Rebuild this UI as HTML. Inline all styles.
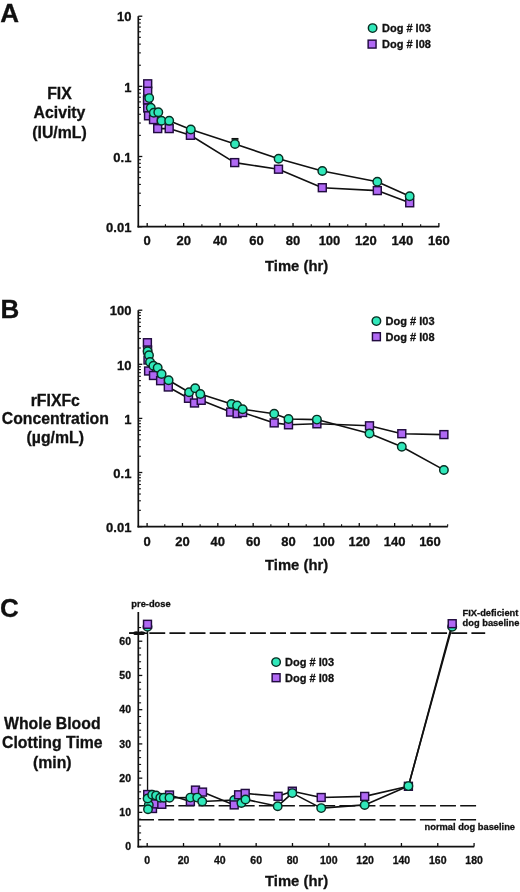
<!DOCTYPE html>
<html><head><meta charset="utf-8"><style>
html,body{margin:0;padding:0;background:#fff;width:520px;height:892px;overflow:hidden}
svg{display:block;filter:blur(0.3px)}
text{font-family:"Liberation Sans",sans-serif;fill:#111;stroke:#111;stroke-width:0.3px}
</style></head><body>
<svg width="520" height="892" viewBox="0 0 520 892">
<rect width="520" height="892" fill="#fff"/>
<text x="0.30" y="21.80" font-size="26" text-anchor="start" font-weight="bold">A</text>
<line x1="138.30" y1="16.20" x2="138.30" y2="227.45" stroke="#111" stroke-width="1.7" />
<line x1="137.50" y1="226.65" x2="439.20" y2="226.65" stroke="#111" stroke-width="1.7" />
<line x1="138.30" y1="16.20" x2="142.30" y2="16.20" stroke="#111" stroke-width="1.3" />
<line x1="138.30" y1="86.35" x2="142.30" y2="86.35" stroke="#111" stroke-width="1.3" />
<line x1="138.30" y1="156.50" x2="142.30" y2="156.50" stroke="#111" stroke-width="1.3" />
<line x1="138.30" y1="226.65" x2="142.30" y2="226.65" stroke="#111" stroke-width="1.3" />
<line x1="138.30" y1="65.23" x2="140.90" y2="65.23" stroke="#111" stroke-width="1.1" />
<line x1="138.30" y1="52.88" x2="140.90" y2="52.88" stroke="#111" stroke-width="1.1" />
<line x1="138.30" y1="44.12" x2="140.90" y2="44.12" stroke="#111" stroke-width="1.1" />
<line x1="138.30" y1="37.32" x2="140.90" y2="37.32" stroke="#111" stroke-width="1.1" />
<line x1="138.30" y1="31.76" x2="140.90" y2="31.76" stroke="#111" stroke-width="1.1" />
<line x1="138.30" y1="27.07" x2="140.90" y2="27.07" stroke="#111" stroke-width="1.1" />
<line x1="138.30" y1="23.00" x2="140.90" y2="23.00" stroke="#111" stroke-width="1.1" />
<line x1="138.30" y1="19.41" x2="140.90" y2="19.41" stroke="#111" stroke-width="1.1" />
<line x1="138.30" y1="135.38" x2="140.90" y2="135.38" stroke="#111" stroke-width="1.1" />
<line x1="138.30" y1="123.03" x2="140.90" y2="123.03" stroke="#111" stroke-width="1.1" />
<line x1="138.30" y1="114.27" x2="140.90" y2="114.27" stroke="#111" stroke-width="1.1" />
<line x1="138.30" y1="107.47" x2="140.90" y2="107.47" stroke="#111" stroke-width="1.1" />
<line x1="138.30" y1="101.91" x2="140.90" y2="101.91" stroke="#111" stroke-width="1.1" />
<line x1="138.30" y1="97.22" x2="140.90" y2="97.22" stroke="#111" stroke-width="1.1" />
<line x1="138.30" y1="93.15" x2="140.90" y2="93.15" stroke="#111" stroke-width="1.1" />
<line x1="138.30" y1="89.56" x2="140.90" y2="89.56" stroke="#111" stroke-width="1.1" />
<line x1="138.30" y1="205.53" x2="140.90" y2="205.53" stroke="#111" stroke-width="1.1" />
<line x1="138.30" y1="193.18" x2="140.90" y2="193.18" stroke="#111" stroke-width="1.1" />
<line x1="138.30" y1="184.42" x2="140.90" y2="184.42" stroke="#111" stroke-width="1.1" />
<line x1="138.30" y1="177.62" x2="140.90" y2="177.62" stroke="#111" stroke-width="1.1" />
<line x1="138.30" y1="172.06" x2="140.90" y2="172.06" stroke="#111" stroke-width="1.1" />
<line x1="138.30" y1="167.37" x2="140.90" y2="167.37" stroke="#111" stroke-width="1.1" />
<line x1="138.30" y1="163.30" x2="140.90" y2="163.30" stroke="#111" stroke-width="1.1" />
<line x1="138.30" y1="159.71" x2="140.90" y2="159.71" stroke="#111" stroke-width="1.1" />
<text x="131.40" y="21.48" font-size="13" text-anchor="end" font-weight="bold">10</text>
<text x="131.40" y="91.63" font-size="13" text-anchor="end" font-weight="bold">1</text>
<text x="131.40" y="161.78" font-size="13" text-anchor="end" font-weight="bold">0.1</text>
<text x="131.40" y="231.93" font-size="13" text-anchor="end" font-weight="bold">0.01</text>
<line x1="147.20" y1="226.65" x2="147.20" y2="223.05" stroke="#111" stroke-width="1.3" />
<text x="147.20" y="245.40" font-size="13" text-anchor="middle" font-weight="bold">0</text>
<line x1="183.66" y1="226.65" x2="183.66" y2="223.05" stroke="#111" stroke-width="1.3" />
<text x="183.66" y="245.40" font-size="13" text-anchor="middle" font-weight="bold">20</text>
<line x1="220.12" y1="226.65" x2="220.12" y2="223.05" stroke="#111" stroke-width="1.3" />
<text x="220.12" y="245.40" font-size="13" text-anchor="middle" font-weight="bold">40</text>
<line x1="256.58" y1="226.65" x2="256.58" y2="223.05" stroke="#111" stroke-width="1.3" />
<text x="256.58" y="245.40" font-size="13" text-anchor="middle" font-weight="bold">60</text>
<line x1="293.04" y1="226.65" x2="293.04" y2="223.05" stroke="#111" stroke-width="1.3" />
<text x="293.04" y="245.40" font-size="13" text-anchor="middle" font-weight="bold">80</text>
<line x1="329.50" y1="226.65" x2="329.50" y2="223.05" stroke="#111" stroke-width="1.3" />
<text x="329.50" y="245.40" font-size="13" text-anchor="middle" font-weight="bold">100</text>
<line x1="365.96" y1="226.65" x2="365.96" y2="223.05" stroke="#111" stroke-width="1.3" />
<text x="365.96" y="245.40" font-size="13" text-anchor="middle" font-weight="bold">120</text>
<line x1="402.42" y1="226.65" x2="402.42" y2="223.05" stroke="#111" stroke-width="1.3" />
<text x="402.42" y="245.40" font-size="13" text-anchor="middle" font-weight="bold">140</text>
<line x1="438.88" y1="226.65" x2="438.88" y2="223.05" stroke="#111" stroke-width="1.3" />
<text x="438.88" y="245.40" font-size="13" text-anchor="middle" font-weight="bold">160</text>
<line x1="165.43" y1="226.65" x2="165.43" y2="224.25" stroke="#111" stroke-width="1.1" />
<line x1="201.89" y1="226.65" x2="201.89" y2="224.25" stroke="#111" stroke-width="1.1" />
<line x1="238.35" y1="226.65" x2="238.35" y2="224.25" stroke="#111" stroke-width="1.1" />
<line x1="274.81" y1="226.65" x2="274.81" y2="224.25" stroke="#111" stroke-width="1.1" />
<line x1="311.27" y1="226.65" x2="311.27" y2="224.25" stroke="#111" stroke-width="1.1" />
<line x1="347.73" y1="226.65" x2="347.73" y2="224.25" stroke="#111" stroke-width="1.1" />
<line x1="384.19" y1="226.65" x2="384.19" y2="224.25" stroke="#111" stroke-width="1.1" />
<line x1="420.65" y1="226.65" x2="420.65" y2="224.25" stroke="#111" stroke-width="1.1" />
<text x="296.60" y="271.20" font-size="14.8" text-anchor="middle" font-weight="bold">Time (hr)</text>
<text x="59.50" y="98.90" font-size="15.8" text-anchor="middle" font-weight="bold">FIX</text>
<text x="59.50" y="118.20" font-size="15.8" text-anchor="middle" font-weight="bold">Acivity</text>
<text x="59.50" y="137.50" font-size="15.8" text-anchor="middle" font-weight="bold">(IU/mL)</text>
<polyline points="147.70,83.80 147.70,91.20 147.50,100.00 147.70,108.00 148.50,115.80 153.50,119.60 157.70,128.60 169.20,128.60 190.40,135.30 234.70,162.60 278.50,169.20 322.30,187.70 377.30,190.60 409.70,202.80" fill="none" stroke="#111" stroke-width="1.6" stroke-linejoin="round"/>
<polyline points="149.20,98.10 150.80,107.70 153.80,112.70 158.30,112.30 161.50,120.80 169.20,120.80 190.80,129.50 235.00,143.90 278.60,158.80 322.30,171.00 377.30,181.80 409.70,196.30" fill="none" stroke="#111" stroke-width="1.6" stroke-linejoin="round"/>
<line x1="235.00" y1="143.00" x2="235.00" y2="138.90" stroke="#111" stroke-width="1.3" />
<line x1="231.50" y1="138.90" x2="238.50" y2="138.90" stroke="#111" stroke-width="1.9" />
<rect x="143.75" y="79.85" width="7.9" height="7.9" fill="#B068F4" stroke="#220C40" stroke-width="1.45"/>
<rect x="143.75" y="87.25" width="7.9" height="7.9" fill="#B068F4" stroke="#220C40" stroke-width="1.45"/>
<rect x="143.55" y="96.05" width="7.9" height="7.9" fill="#B068F4" stroke="#220C40" stroke-width="1.45"/>
<rect x="143.75" y="104.05" width="7.9" height="7.9" fill="#B068F4" stroke="#220C40" stroke-width="1.45"/>
<rect x="144.55" y="111.85" width="7.9" height="7.9" fill="#B068F4" stroke="#220C40" stroke-width="1.45"/>
<rect x="149.55" y="115.65" width="7.9" height="7.9" fill="#B068F4" stroke="#220C40" stroke-width="1.45"/>
<rect x="153.75" y="124.65" width="7.9" height="7.9" fill="#B068F4" stroke="#220C40" stroke-width="1.45"/>
<rect x="165.25" y="124.65" width="7.9" height="7.9" fill="#B068F4" stroke="#220C40" stroke-width="1.45"/>
<rect x="186.45" y="131.35" width="7.9" height="7.9" fill="#B068F4" stroke="#220C40" stroke-width="1.45"/>
<rect x="230.75" y="158.65" width="7.9" height="7.9" fill="#B068F4" stroke="#220C40" stroke-width="1.45"/>
<rect x="274.55" y="165.25" width="7.9" height="7.9" fill="#B068F4" stroke="#220C40" stroke-width="1.45"/>
<rect x="318.35" y="183.75" width="7.9" height="7.9" fill="#B068F4" stroke="#220C40" stroke-width="1.45"/>
<rect x="373.35" y="186.65" width="7.9" height="7.9" fill="#B068F4" stroke="#220C40" stroke-width="1.45"/>
<rect x="405.75" y="198.85" width="7.9" height="7.9" fill="#B068F4" stroke="#220C40" stroke-width="1.45"/>
<circle cx="149.20" cy="98.10" r="4.25" fill="#30E8BA" stroke="#082E22" stroke-width="1.45"/>
<circle cx="150.80" cy="107.70" r="4.25" fill="#30E8BA" stroke="#082E22" stroke-width="1.45"/>
<circle cx="153.80" cy="112.70" r="4.25" fill="#30E8BA" stroke="#082E22" stroke-width="1.45"/>
<circle cx="158.30" cy="112.30" r="4.25" fill="#30E8BA" stroke="#082E22" stroke-width="1.45"/>
<circle cx="161.50" cy="120.80" r="4.25" fill="#30E8BA" stroke="#082E22" stroke-width="1.45"/>
<circle cx="169.20" cy="120.80" r="4.25" fill="#30E8BA" stroke="#082E22" stroke-width="1.45"/>
<circle cx="190.80" cy="129.50" r="4.25" fill="#30E8BA" stroke="#082E22" stroke-width="1.45"/>
<circle cx="235.00" cy="143.90" r="4.25" fill="#30E8BA" stroke="#082E22" stroke-width="1.45"/>
<circle cx="278.60" cy="158.80" r="4.25" fill="#30E8BA" stroke="#082E22" stroke-width="1.45"/>
<circle cx="322.30" cy="171.00" r="4.25" fill="#30E8BA" stroke="#082E22" stroke-width="1.45"/>
<circle cx="377.30" cy="181.80" r="4.25" fill="#30E8BA" stroke="#082E22" stroke-width="1.45"/>
<circle cx="409.70" cy="196.30" r="4.25" fill="#30E8BA" stroke="#082E22" stroke-width="1.45"/>
<circle cx="372.60" cy="28.10" r="4.25" fill="#30E8BA" stroke="#082E22" stroke-width="1.45"/>
<rect x="368.15" y="40.15" width="7.9" height="7.9" fill="#B068F4" stroke="#220C40" stroke-width="1.45"/>
<text x="382.00" y="32.20" font-size="11" text-anchor="start" font-weight="bold">Dog # I03</text>
<text x="382.00" y="47.60" font-size="11" text-anchor="start" font-weight="bold">Dog # I08</text>
<text x="0.40" y="317.80" font-size="26" text-anchor="start" font-weight="bold">B</text>
<line x1="138.30" y1="310.20" x2="138.30" y2="527.40" stroke="#111" stroke-width="1.7" />
<line x1="137.50" y1="526.60" x2="447.80" y2="526.60" stroke="#111" stroke-width="1.7" />
<line x1="138.30" y1="310.20" x2="142.30" y2="310.20" stroke="#111" stroke-width="1.3" />
<line x1="138.30" y1="364.30" x2="142.30" y2="364.30" stroke="#111" stroke-width="1.3" />
<line x1="138.30" y1="418.40" x2="142.30" y2="418.40" stroke="#111" stroke-width="1.3" />
<line x1="138.30" y1="472.50" x2="142.30" y2="472.50" stroke="#111" stroke-width="1.3" />
<line x1="138.30" y1="526.60" x2="142.30" y2="526.60" stroke="#111" stroke-width="1.3" />
<line x1="138.30" y1="348.01" x2="140.90" y2="348.01" stroke="#111" stroke-width="1.1" />
<line x1="138.30" y1="338.49" x2="140.90" y2="338.49" stroke="#111" stroke-width="1.1" />
<line x1="138.30" y1="331.73" x2="140.90" y2="331.73" stroke="#111" stroke-width="1.1" />
<line x1="138.30" y1="326.49" x2="140.90" y2="326.49" stroke="#111" stroke-width="1.1" />
<line x1="138.30" y1="322.20" x2="140.90" y2="322.20" stroke="#111" stroke-width="1.1" />
<line x1="138.30" y1="318.58" x2="140.90" y2="318.58" stroke="#111" stroke-width="1.1" />
<line x1="138.30" y1="315.44" x2="140.90" y2="315.44" stroke="#111" stroke-width="1.1" />
<line x1="138.30" y1="312.68" x2="140.90" y2="312.68" stroke="#111" stroke-width="1.1" />
<line x1="138.30" y1="402.11" x2="140.90" y2="402.11" stroke="#111" stroke-width="1.1" />
<line x1="138.30" y1="392.59" x2="140.90" y2="392.59" stroke="#111" stroke-width="1.1" />
<line x1="138.30" y1="385.83" x2="140.90" y2="385.83" stroke="#111" stroke-width="1.1" />
<line x1="138.30" y1="380.59" x2="140.90" y2="380.59" stroke="#111" stroke-width="1.1" />
<line x1="138.30" y1="376.30" x2="140.90" y2="376.30" stroke="#111" stroke-width="1.1" />
<line x1="138.30" y1="372.68" x2="140.90" y2="372.68" stroke="#111" stroke-width="1.1" />
<line x1="138.30" y1="369.54" x2="140.90" y2="369.54" stroke="#111" stroke-width="1.1" />
<line x1="138.30" y1="366.78" x2="140.90" y2="366.78" stroke="#111" stroke-width="1.1" />
<line x1="138.30" y1="456.21" x2="140.90" y2="456.21" stroke="#111" stroke-width="1.1" />
<line x1="138.30" y1="446.69" x2="140.90" y2="446.69" stroke="#111" stroke-width="1.1" />
<line x1="138.30" y1="439.93" x2="140.90" y2="439.93" stroke="#111" stroke-width="1.1" />
<line x1="138.30" y1="434.69" x2="140.90" y2="434.69" stroke="#111" stroke-width="1.1" />
<line x1="138.30" y1="430.40" x2="140.90" y2="430.40" stroke="#111" stroke-width="1.1" />
<line x1="138.30" y1="426.78" x2="140.90" y2="426.78" stroke="#111" stroke-width="1.1" />
<line x1="138.30" y1="423.64" x2="140.90" y2="423.64" stroke="#111" stroke-width="1.1" />
<line x1="138.30" y1="420.88" x2="140.90" y2="420.88" stroke="#111" stroke-width="1.1" />
<line x1="138.30" y1="510.31" x2="140.90" y2="510.31" stroke="#111" stroke-width="1.1" />
<line x1="138.30" y1="500.79" x2="140.90" y2="500.79" stroke="#111" stroke-width="1.1" />
<line x1="138.30" y1="494.03" x2="140.90" y2="494.03" stroke="#111" stroke-width="1.1" />
<line x1="138.30" y1="488.79" x2="140.90" y2="488.79" stroke="#111" stroke-width="1.1" />
<line x1="138.30" y1="484.50" x2="140.90" y2="484.50" stroke="#111" stroke-width="1.1" />
<line x1="138.30" y1="480.88" x2="140.90" y2="480.88" stroke="#111" stroke-width="1.1" />
<line x1="138.30" y1="477.74" x2="140.90" y2="477.74" stroke="#111" stroke-width="1.1" />
<line x1="138.30" y1="474.98" x2="140.90" y2="474.98" stroke="#111" stroke-width="1.1" />
<text x="131.40" y="315.48" font-size="13" text-anchor="end" font-weight="bold">100</text>
<text x="131.40" y="369.58" font-size="13" text-anchor="end" font-weight="bold">10</text>
<text x="131.40" y="423.68" font-size="13" text-anchor="end" font-weight="bold">1</text>
<text x="131.40" y="477.78" font-size="13" text-anchor="end" font-weight="bold">0.1</text>
<text x="131.40" y="531.88" font-size="13" text-anchor="end" font-weight="bold">0.01</text>
<line x1="147.10" y1="526.60" x2="147.10" y2="523.00" stroke="#111" stroke-width="1.3" />
<text x="147.10" y="545.70" font-size="13" text-anchor="middle" font-weight="bold">0</text>
<line x1="182.46" y1="526.60" x2="182.46" y2="523.00" stroke="#111" stroke-width="1.3" />
<text x="182.46" y="545.70" font-size="13" text-anchor="middle" font-weight="bold">20</text>
<line x1="217.82" y1="526.60" x2="217.82" y2="523.00" stroke="#111" stroke-width="1.3" />
<text x="217.82" y="545.70" font-size="13" text-anchor="middle" font-weight="bold">40</text>
<line x1="253.18" y1="526.60" x2="253.18" y2="523.00" stroke="#111" stroke-width="1.3" />
<text x="253.18" y="545.70" font-size="13" text-anchor="middle" font-weight="bold">60</text>
<line x1="288.54" y1="526.60" x2="288.54" y2="523.00" stroke="#111" stroke-width="1.3" />
<text x="288.54" y="545.70" font-size="13" text-anchor="middle" font-weight="bold">80</text>
<line x1="323.90" y1="526.60" x2="323.90" y2="523.00" stroke="#111" stroke-width="1.3" />
<text x="323.90" y="545.70" font-size="13" text-anchor="middle" font-weight="bold">100</text>
<line x1="359.26" y1="526.60" x2="359.26" y2="523.00" stroke="#111" stroke-width="1.3" />
<text x="359.26" y="545.70" font-size="13" text-anchor="middle" font-weight="bold">120</text>
<line x1="394.62" y1="526.60" x2="394.62" y2="523.00" stroke="#111" stroke-width="1.3" />
<text x="394.62" y="545.70" font-size="13" text-anchor="middle" font-weight="bold">140</text>
<line x1="429.98" y1="526.60" x2="429.98" y2="523.00" stroke="#111" stroke-width="1.3" />
<text x="429.98" y="545.70" font-size="13" text-anchor="middle" font-weight="bold">160</text>
<line x1="164.78" y1="526.60" x2="164.78" y2="524.20" stroke="#111" stroke-width="1.1" />
<line x1="200.14" y1="526.60" x2="200.14" y2="524.20" stroke="#111" stroke-width="1.1" />
<line x1="235.50" y1="526.60" x2="235.50" y2="524.20" stroke="#111" stroke-width="1.1" />
<line x1="270.86" y1="526.60" x2="270.86" y2="524.20" stroke="#111" stroke-width="1.1" />
<line x1="306.22" y1="526.60" x2="306.22" y2="524.20" stroke="#111" stroke-width="1.1" />
<line x1="341.58" y1="526.60" x2="341.58" y2="524.20" stroke="#111" stroke-width="1.1" />
<line x1="376.94" y1="526.60" x2="376.94" y2="524.20" stroke="#111" stroke-width="1.1" />
<line x1="412.30" y1="526.60" x2="412.30" y2="524.20" stroke="#111" stroke-width="1.1" />
<line x1="447.66" y1="526.60" x2="447.66" y2="524.20" stroke="#111" stroke-width="1.1" />
<text x="296.60" y="570.20" font-size="14.8" text-anchor="middle" font-weight="bold">Time (hr)</text>
<text x="55.30" y="405.70" font-size="15.8" text-anchor="middle" font-weight="bold">rFIXFc</text>
<text x="55.30" y="424.40" font-size="15.8" text-anchor="middle" font-weight="bold">Concentration</text>
<text x="55.30" y="443.10" font-size="15.8" text-anchor="middle" font-weight="bold">(µg/mL)</text>
<polyline points="147.40,342.70 147.60,350.00 148.00,360.00 148.60,371.00 153.50,375.50 160.60,380.70 168.30,387.00 188.50,398.30 194.50,403.00 201.20,400.30 230.60,412.10 237.10,413.60 242.60,412.50 274.20,422.90 288.50,424.80 316.90,423.80 369.50,425.80 401.80,433.70 443.90,434.60" fill="none" stroke="#111" stroke-width="1.6" stroke-linejoin="round"/>
<polyline points="147.60,351.30 149.00,355.20 150.00,362.00 153.40,365.80 157.70,367.70 161.60,374.00 168.60,380.20 189.10,392.20 195.20,388.20 200.30,394.00 231.50,403.90 237.10,405.40 242.60,409.20 274.20,413.80 288.50,419.00 316.90,419.60 369.50,433.50 401.80,446.80 443.90,469.90" fill="none" stroke="#111" stroke-width="1.6" stroke-linejoin="round"/>
<rect x="143.45" y="338.75" width="7.9" height="7.9" fill="#B068F4" stroke="#220C40" stroke-width="1.45"/>
<rect x="143.65" y="346.05" width="7.9" height="7.9" fill="#B068F4" stroke="#220C40" stroke-width="1.45"/>
<rect x="144.05" y="356.05" width="7.9" height="7.9" fill="#B068F4" stroke="#220C40" stroke-width="1.45"/>
<rect x="144.65" y="367.05" width="7.9" height="7.9" fill="#B068F4" stroke="#220C40" stroke-width="1.45"/>
<rect x="149.55" y="371.55" width="7.9" height="7.9" fill="#B068F4" stroke="#220C40" stroke-width="1.45"/>
<rect x="156.65" y="376.75" width="7.9" height="7.9" fill="#B068F4" stroke="#220C40" stroke-width="1.45"/>
<rect x="164.35" y="383.05" width="7.9" height="7.9" fill="#B068F4" stroke="#220C40" stroke-width="1.45"/>
<rect x="184.55" y="394.35" width="7.9" height="7.9" fill="#B068F4" stroke="#220C40" stroke-width="1.45"/>
<rect x="190.55" y="399.05" width="7.9" height="7.9" fill="#B068F4" stroke="#220C40" stroke-width="1.45"/>
<rect x="197.25" y="396.35" width="7.9" height="7.9" fill="#B068F4" stroke="#220C40" stroke-width="1.45"/>
<rect x="226.65" y="408.15" width="7.9" height="7.9" fill="#B068F4" stroke="#220C40" stroke-width="1.45"/>
<rect x="233.15" y="409.65" width="7.9" height="7.9" fill="#B068F4" stroke="#220C40" stroke-width="1.45"/>
<rect x="238.65" y="408.55" width="7.9" height="7.9" fill="#B068F4" stroke="#220C40" stroke-width="1.45"/>
<rect x="270.25" y="418.95" width="7.9" height="7.9" fill="#B068F4" stroke="#220C40" stroke-width="1.45"/>
<rect x="284.55" y="420.85" width="7.9" height="7.9" fill="#B068F4" stroke="#220C40" stroke-width="1.45"/>
<rect x="312.95" y="419.85" width="7.9" height="7.9" fill="#B068F4" stroke="#220C40" stroke-width="1.45"/>
<rect x="365.55" y="421.85" width="7.9" height="7.9" fill="#B068F4" stroke="#220C40" stroke-width="1.45"/>
<rect x="397.85" y="429.75" width="7.9" height="7.9" fill="#B068F4" stroke="#220C40" stroke-width="1.45"/>
<rect x="439.95" y="430.65" width="7.9" height="7.9" fill="#B068F4" stroke="#220C40" stroke-width="1.45"/>
<circle cx="147.60" cy="351.30" r="4.25" fill="#30E8BA" stroke="#082E22" stroke-width="1.45"/>
<circle cx="149.00" cy="355.20" r="4.25" fill="#30E8BA" stroke="#082E22" stroke-width="1.45"/>
<circle cx="150.00" cy="362.00" r="4.25" fill="#30E8BA" stroke="#082E22" stroke-width="1.45"/>
<circle cx="153.40" cy="365.80" r="4.25" fill="#30E8BA" stroke="#082E22" stroke-width="1.45"/>
<circle cx="157.70" cy="367.70" r="4.25" fill="#30E8BA" stroke="#082E22" stroke-width="1.45"/>
<circle cx="161.60" cy="374.00" r="4.25" fill="#30E8BA" stroke="#082E22" stroke-width="1.45"/>
<circle cx="168.60" cy="380.20" r="4.25" fill="#30E8BA" stroke="#082E22" stroke-width="1.45"/>
<circle cx="189.10" cy="392.20" r="4.25" fill="#30E8BA" stroke="#082E22" stroke-width="1.45"/>
<circle cx="195.20" cy="388.20" r="4.25" fill="#30E8BA" stroke="#082E22" stroke-width="1.45"/>
<circle cx="200.30" cy="394.00" r="4.25" fill="#30E8BA" stroke="#082E22" stroke-width="1.45"/>
<circle cx="231.50" cy="403.90" r="4.25" fill="#30E8BA" stroke="#082E22" stroke-width="1.45"/>
<circle cx="237.10" cy="405.40" r="4.25" fill="#30E8BA" stroke="#082E22" stroke-width="1.45"/>
<circle cx="242.60" cy="409.20" r="4.25" fill="#30E8BA" stroke="#082E22" stroke-width="1.45"/>
<circle cx="274.20" cy="413.80" r="4.25" fill="#30E8BA" stroke="#082E22" stroke-width="1.45"/>
<circle cx="288.50" cy="419.00" r="4.25" fill="#30E8BA" stroke="#082E22" stroke-width="1.45"/>
<circle cx="316.90" cy="419.60" r="4.25" fill="#30E8BA" stroke="#082E22" stroke-width="1.45"/>
<circle cx="369.50" cy="433.50" r="4.25" fill="#30E8BA" stroke="#082E22" stroke-width="1.45"/>
<circle cx="401.80" cy="446.80" r="4.25" fill="#30E8BA" stroke="#082E22" stroke-width="1.45"/>
<circle cx="443.90" cy="469.90" r="4.25" fill="#30E8BA" stroke="#082E22" stroke-width="1.45"/>
<circle cx="376.40" cy="321.10" r="4.25" fill="#30E8BA" stroke="#082E22" stroke-width="1.45"/>
<rect x="372.45" y="332.75" width="7.9" height="7.9" fill="#B068F4" stroke="#220C40" stroke-width="1.45"/>
<text x="385.60" y="324.90" font-size="11" text-anchor="start" font-weight="bold">Dog # I03</text>
<text x="385.60" y="340.50" font-size="11" text-anchor="start" font-weight="bold">Dog # I08</text>
<text x="0.10" y="617.30" font-size="26" text-anchor="start" font-weight="bold">C</text>
<line x1="138.30" y1="612.00" x2="138.30" y2="847.40" stroke="#111" stroke-width="1.7" />
<line x1="137.50" y1="846.60" x2="474.20" y2="846.60" stroke="#111" stroke-width="1.7" />
<line x1="138.30" y1="846.60" x2="142.30" y2="846.60" stroke="#111" stroke-width="1.3" />
<text x="131.00" y="850.30" font-size="10.5" text-anchor="end" font-weight="bold">0</text>
<line x1="138.30" y1="839.75" x2="141.10" y2="839.75" stroke="#111" stroke-width="1.1" />
<line x1="138.30" y1="832.91" x2="141.10" y2="832.91" stroke="#111" stroke-width="1.1" />
<line x1="138.30" y1="826.06" x2="141.10" y2="826.06" stroke="#111" stroke-width="1.1" />
<line x1="138.30" y1="819.22" x2="141.10" y2="819.22" stroke="#111" stroke-width="1.1" />
<line x1="138.30" y1="812.37" x2="142.30" y2="812.37" stroke="#111" stroke-width="1.3" />
<text x="131.00" y="816.07" font-size="10.5" text-anchor="end" font-weight="bold">10</text>
<line x1="138.30" y1="805.52" x2="141.10" y2="805.52" stroke="#111" stroke-width="1.1" />
<line x1="138.30" y1="798.68" x2="141.10" y2="798.68" stroke="#111" stroke-width="1.1" />
<line x1="138.30" y1="791.83" x2="141.10" y2="791.83" stroke="#111" stroke-width="1.1" />
<line x1="138.30" y1="784.99" x2="141.10" y2="784.99" stroke="#111" stroke-width="1.1" />
<line x1="138.30" y1="778.14" x2="142.30" y2="778.14" stroke="#111" stroke-width="1.3" />
<text x="131.00" y="781.84" font-size="10.5" text-anchor="end" font-weight="bold">20</text>
<line x1="138.30" y1="771.29" x2="141.10" y2="771.29" stroke="#111" stroke-width="1.1" />
<line x1="138.30" y1="764.45" x2="141.10" y2="764.45" stroke="#111" stroke-width="1.1" />
<line x1="138.30" y1="757.60" x2="141.10" y2="757.60" stroke="#111" stroke-width="1.1" />
<line x1="138.30" y1="750.76" x2="141.10" y2="750.76" stroke="#111" stroke-width="1.1" />
<line x1="138.30" y1="743.91" x2="142.30" y2="743.91" stroke="#111" stroke-width="1.3" />
<text x="131.00" y="747.61" font-size="10.5" text-anchor="end" font-weight="bold">30</text>
<line x1="138.30" y1="737.06" x2="141.10" y2="737.06" stroke="#111" stroke-width="1.1" />
<line x1="138.30" y1="730.22" x2="141.10" y2="730.22" stroke="#111" stroke-width="1.1" />
<line x1="138.30" y1="723.37" x2="141.10" y2="723.37" stroke="#111" stroke-width="1.1" />
<line x1="138.30" y1="716.53" x2="141.10" y2="716.53" stroke="#111" stroke-width="1.1" />
<line x1="138.30" y1="709.68" x2="142.30" y2="709.68" stroke="#111" stroke-width="1.3" />
<text x="131.00" y="713.38" font-size="10.5" text-anchor="end" font-weight="bold">40</text>
<line x1="138.30" y1="702.83" x2="141.10" y2="702.83" stroke="#111" stroke-width="1.1" />
<line x1="138.30" y1="695.99" x2="141.10" y2="695.99" stroke="#111" stroke-width="1.1" />
<line x1="138.30" y1="689.14" x2="141.10" y2="689.14" stroke="#111" stroke-width="1.1" />
<line x1="138.30" y1="682.30" x2="141.10" y2="682.30" stroke="#111" stroke-width="1.1" />
<line x1="138.30" y1="675.45" x2="142.30" y2="675.45" stroke="#111" stroke-width="1.3" />
<text x="131.00" y="679.15" font-size="10.5" text-anchor="end" font-weight="bold">50</text>
<line x1="138.30" y1="668.60" x2="141.10" y2="668.60" stroke="#111" stroke-width="1.1" />
<line x1="138.30" y1="661.76" x2="141.10" y2="661.76" stroke="#111" stroke-width="1.1" />
<line x1="138.30" y1="654.91" x2="141.10" y2="654.91" stroke="#111" stroke-width="1.1" />
<line x1="138.30" y1="648.07" x2="141.10" y2="648.07" stroke="#111" stroke-width="1.1" />
<line x1="138.30" y1="641.22" x2="142.30" y2="641.22" stroke="#111" stroke-width="1.3" />
<text x="131.00" y="644.92" font-size="10.5" text-anchor="end" font-weight="bold">60</text>
<line x1="138.30" y1="634.37" x2="141.10" y2="634.37" stroke="#111" stroke-width="1.1" />
<line x1="138.30" y1="627.53" x2="141.10" y2="627.53" stroke="#111" stroke-width="1.1" />
<line x1="147.20" y1="846.60" x2="147.20" y2="843.00" stroke="#111" stroke-width="1.3" />
<text x="147.20" y="863.50" font-size="10.5" text-anchor="middle" font-weight="bold">0</text>
<line x1="183.52" y1="846.60" x2="183.52" y2="843.00" stroke="#111" stroke-width="1.3" />
<text x="183.52" y="863.50" font-size="10.5" text-anchor="middle" font-weight="bold">20</text>
<line x1="219.84" y1="846.60" x2="219.84" y2="843.00" stroke="#111" stroke-width="1.3" />
<text x="219.84" y="863.50" font-size="10.5" text-anchor="middle" font-weight="bold">40</text>
<line x1="256.16" y1="846.60" x2="256.16" y2="843.00" stroke="#111" stroke-width="1.3" />
<text x="256.16" y="863.50" font-size="10.5" text-anchor="middle" font-weight="bold">60</text>
<line x1="292.48" y1="846.60" x2="292.48" y2="843.00" stroke="#111" stroke-width="1.3" />
<text x="292.48" y="863.50" font-size="10.5" text-anchor="middle" font-weight="bold">80</text>
<line x1="328.80" y1="846.60" x2="328.80" y2="843.00" stroke="#111" stroke-width="1.3" />
<text x="328.80" y="863.50" font-size="10.5" text-anchor="middle" font-weight="bold">100</text>
<line x1="365.12" y1="846.60" x2="365.12" y2="843.00" stroke="#111" stroke-width="1.3" />
<text x="365.12" y="863.50" font-size="10.5" text-anchor="middle" font-weight="bold">120</text>
<line x1="401.44" y1="846.60" x2="401.44" y2="843.00" stroke="#111" stroke-width="1.3" />
<text x="401.44" y="863.50" font-size="10.5" text-anchor="middle" font-weight="bold">140</text>
<line x1="437.76" y1="846.60" x2="437.76" y2="843.00" stroke="#111" stroke-width="1.3" />
<text x="437.76" y="863.50" font-size="10.5" text-anchor="middle" font-weight="bold">160</text>
<line x1="474.08" y1="846.60" x2="474.08" y2="843.00" stroke="#111" stroke-width="1.3" />
<text x="474.08" y="863.50" font-size="10.5" text-anchor="middle" font-weight="bold">180</text>
<text x="296.60" y="886.00" font-size="14.8" text-anchor="middle" font-weight="bold">Time (hr)</text>
<text x="52.30" y="728.90" font-size="15.8" text-anchor="middle" font-weight="bold">Whole Blood</text>
<text x="52.30" y="748.20" font-size="15.8" text-anchor="middle" font-weight="bold">Clotting Time</text>
<text x="52.30" y="767.50" font-size="15.8" text-anchor="middle" font-weight="bold">(min)</text>
<line x1="129.2" y1="633.1" x2="485.2" y2="633.1" stroke="#111" stroke-width="1.6" stroke-dasharray="15.9 4.23"/>
<line x1="138.1" y1="805.7" x2="476.3" y2="805.7" stroke="#111" stroke-width="1.6" stroke-dasharray="15.9 4.23"/>
<line x1="138.1" y1="819.8" x2="476.3" y2="819.8" stroke="#111" stroke-width="1.6" stroke-dasharray="15.9 4.23"/>
<ellipse cx="136.2" cy="633.2" rx="3" ry="1.9" fill="#111"/>
<ellipse cx="141.6" cy="633.2" rx="3.4" ry="1.9" fill="#111"/>
<line x1="129.20" y1="633.20" x2="147.00" y2="633.20" stroke="#111" stroke-width="1.6" />
<text x="151.00" y="606.50" font-size="9.3" text-anchor="middle" font-weight="bold">pre-dose</text>
<text x="462.60" y="616.20" font-size="9.3" text-anchor="start" font-weight="bold">FIX-deficient</text>
<text x="462.60" y="625.80" font-size="9.3" text-anchor="start" font-weight="bold">dog baseline</text>
<text x="424.60" y="830.00" font-size="9.3" text-anchor="start" font-weight="bold">normal dog baseline</text>
<polyline points="147.70,794.50 155.30,803.90 161.80,804.30 169.50,795.00 190.40,801.50 195.50,790.10 202.50,792.10 234.20,804.90 238.60,794.80 245.20,793.40 278.10,796.30 292.30,791.20 321.20,797.50 364.70,796.40 408.40,786.30 452.20,623.70" fill="none" stroke="#111" stroke-width="1.6" stroke-linejoin="round"/>
<polyline points="147.60,798.50 152.20,794.70 156.10,795.50 160.30,797.80 163.80,797.80 169.50,797.80 190.40,797.60 197.20,797.60 202.20,801.50 234.20,800.00 241.40,802.90 245.50,799.40 277.70,806.20 292.30,793.10 321.20,808.10 364.70,804.90 408.40,786.10 452.20,626.50" fill="none" stroke="#111" stroke-width="1.6" stroke-linejoin="round"/>
<line x1="147.55" y1="626.00" x2="147.55" y2="794.00" stroke="#111" stroke-width="1.35" />
<circle cx="147.50" cy="626.80" r="4.25" fill="#30E8BA" stroke="#082E22" stroke-width="1.45"/>
<rect x="143.55" y="620.35" width="7.9" height="7.9" fill="#B068F4" stroke="#220C40" stroke-width="1.45"/>
<circle cx="452.20" cy="626.80" r="4.25" fill="#30E8BA" stroke="#082E22" stroke-width="1.45"/>
<rect x="448.25" y="619.75" width="7.9" height="7.9" fill="#B068F4" stroke="#220C40" stroke-width="1.45"/>
<rect x="143.75" y="790.55" width="7.9" height="7.9" fill="#B068F4" stroke="#220C40" stroke-width="1.45"/>
<rect x="148.55" y="804.55" width="7.9" height="7.9" fill="#B068F4" stroke="#220C40" stroke-width="1.45"/>
<rect x="151.35" y="799.95" width="7.9" height="7.9" fill="#B068F4" stroke="#220C40" stroke-width="1.45"/>
<rect x="157.85" y="800.35" width="7.9" height="7.9" fill="#B068F4" stroke="#220C40" stroke-width="1.45"/>
<rect x="165.55" y="791.05" width="7.9" height="7.9" fill="#B068F4" stroke="#220C40" stroke-width="1.45"/>
<circle cx="148.80" cy="805.00" r="4.25" fill="#30E8BA" stroke="#082E22" stroke-width="1.45"/>
<circle cx="148.00" cy="809.30" r="4.25" fill="#30E8BA" stroke="#082E22" stroke-width="1.45"/>
<circle cx="147.60" cy="798.50" r="4.25" fill="#30E8BA" stroke="#082E22" stroke-width="1.45"/>
<circle cx="152.20" cy="794.70" r="4.25" fill="#30E8BA" stroke="#082E22" stroke-width="1.45"/>
<circle cx="156.10" cy="795.50" r="4.25" fill="#30E8BA" stroke="#082E22" stroke-width="1.45"/>
<circle cx="160.30" cy="797.80" r="4.25" fill="#30E8BA" stroke="#082E22" stroke-width="1.45"/>
<circle cx="163.80" cy="797.80" r="4.25" fill="#30E8BA" stroke="#082E22" stroke-width="1.45"/>
<circle cx="169.50" cy="797.80" r="4.25" fill="#30E8BA" stroke="#082E22" stroke-width="1.45"/>
<rect x="186.45" y="797.55" width="7.9" height="7.9" fill="#B068F4" stroke="#220C40" stroke-width="1.45"/>
<rect x="191.55" y="786.15" width="7.9" height="7.9" fill="#B068F4" stroke="#220C40" stroke-width="1.45"/>
<rect x="198.55" y="788.15" width="7.9" height="7.9" fill="#B068F4" stroke="#220C40" stroke-width="1.45"/>
<circle cx="190.40" cy="797.60" r="4.25" fill="#30E8BA" stroke="#082E22" stroke-width="1.45"/>
<circle cx="197.20" cy="797.60" r="4.25" fill="#30E8BA" stroke="#082E22" stroke-width="1.45"/>
<circle cx="202.20" cy="801.50" r="4.25" fill="#30E8BA" stroke="#082E22" stroke-width="1.45"/>
<circle cx="234.20" cy="800.00" r="4.25" fill="#30E8BA" stroke="#082E22" stroke-width="1.45"/>
<rect x="230.25" y="800.95" width="7.9" height="7.9" fill="#B068F4" stroke="#220C40" stroke-width="1.45"/>
<rect x="234.65" y="790.85" width="7.9" height="7.9" fill="#B068F4" stroke="#220C40" stroke-width="1.45"/>
<circle cx="241.40" cy="802.90" r="4.25" fill="#30E8BA" stroke="#082E22" stroke-width="1.45"/>
<rect x="241.25" y="789.45" width="7.9" height="7.9" fill="#B068F4" stroke="#220C40" stroke-width="1.45"/>
<circle cx="245.50" cy="799.40" r="4.25" fill="#30E8BA" stroke="#082E22" stroke-width="1.45"/>
<rect x="274.15" y="792.35" width="7.9" height="7.9" fill="#B068F4" stroke="#220C40" stroke-width="1.45"/>
<circle cx="277.70" cy="806.20" r="4.25" fill="#30E8BA" stroke="#082E22" stroke-width="1.45"/>
<rect x="288.35" y="787.25" width="7.9" height="7.9" fill="#B068F4" stroke="#220C40" stroke-width="1.45"/>
<circle cx="292.30" cy="793.10" r="4.25" fill="#30E8BA" stroke="#082E22" stroke-width="1.45"/>
<rect x="317.25" y="793.55" width="7.9" height="7.9" fill="#B068F4" stroke="#220C40" stroke-width="1.45"/>
<circle cx="321.20" cy="808.10" r="4.25" fill="#30E8BA" stroke="#082E22" stroke-width="1.45"/>
<rect x="360.75" y="792.45" width="7.9" height="7.9" fill="#B068F4" stroke="#220C40" stroke-width="1.45"/>
<circle cx="364.70" cy="804.90" r="4.25" fill="#30E8BA" stroke="#082E22" stroke-width="1.45"/>
<rect x="404.45" y="782.35" width="7.9" height="7.9" fill="#B068F4" stroke="#220C40" stroke-width="1.45"/>
<circle cx="408.40" cy="786.10" r="4.25" fill="#30E8BA" stroke="#082E22" stroke-width="1.45"/>
<circle cx="276.10" cy="662.10" r="4.25" fill="#30E8BA" stroke="#082E22" stroke-width="1.45"/>
<rect x="272.15" y="673.75" width="7.9" height="7.9" fill="#B068F4" stroke="#220C40" stroke-width="1.45"/>
<text x="285.10" y="665.90" font-size="11" text-anchor="start" font-weight="bold">Dog # I03</text>
<text x="285.10" y="681.50" font-size="11" text-anchor="start" font-weight="bold">Dog # I08</text>
</svg>
</body></html>
